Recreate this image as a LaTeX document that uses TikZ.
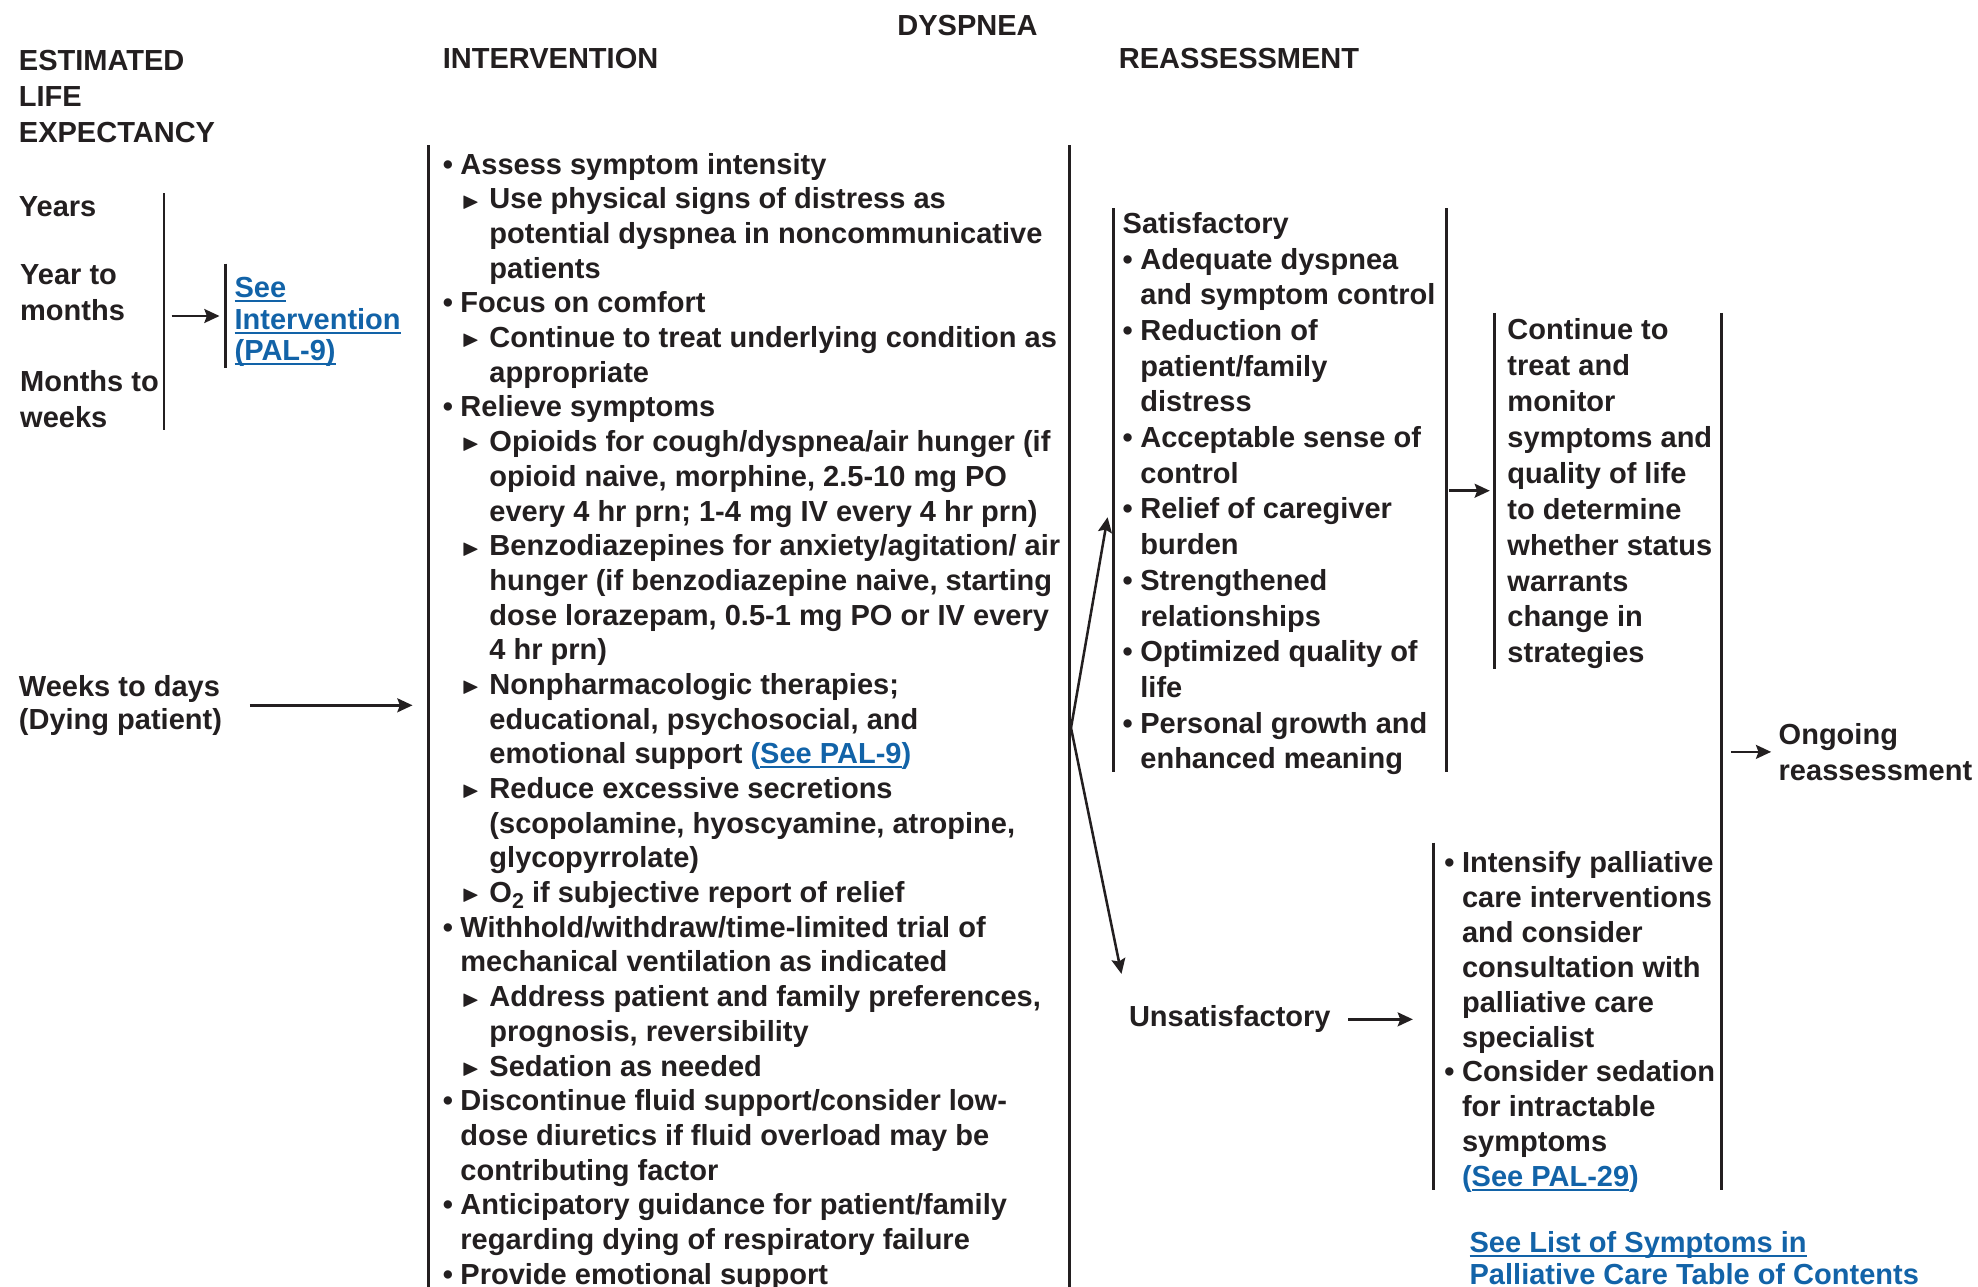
\documentclass[tikz,border=0pt]{standalone}
\usepackage{amssymb}
\usepackage{graphicx}
\usepackage{fontspec}
\setmainfont{Liberation Sans}
\usetikzlibrary{arrows.meta}

\definecolor{ink}{RGB}{35,31,32}
\definecolor{linkblue}{RGB}{18,99,168}

% list markers
\newcommand{\bitem}{\makebox[14pt][l]{\textbullet}}
\newcommand{\bcont}{\hspace*{14pt}}
\newcommand{\sitem}{\hspace*{14pt}\makebox[23pt][l]{\hspace*{1pt}\raisebox{0.5pt}{\scalebox{0.8}{$\blacktriangleright$}}}}
\newcommand{\scont}{\hspace*{37pt}}

% blue links
\newsavebox{\lnkbox}
\newcommand{\seelink}[1]{{\color{linkblue}\sbox{\lnkbox}{#1}\rlap{\rule[-3.5pt]{\wd\lnkbox}{1.5pt}}\usebox{\lnkbox}}}
\newcommand{\seeparen}[1]{{\color{linkblue}(\seelink{#1})}}

\begin{document}
\begin{tikzpicture}[
            > = {Stealth[length=12pt, width=11pt, inset=2pt]}, % arrow head style
            x = 1pt, y = -1pt, % one unit per pixel, top down
            line width = 2pt % line style
        ]

        % multi-line texts are placed by the baseline of their last line
        \tikzstyle{txt}=[
            anchor = base west,
            inner sep = 0pt,
            align = left,
            text = ink,
            font = \bfseries\fontsize{23}{28.5}\selectfont
        ]
        \tikzstyle{frame}=[anchor = north west, inner sep = 0pt, outer sep = 0pt]
        \tikzstyle{bar}=[draw = ink, line width = 2.3pt]
        \tikzstyle{arr}=[->, draw = ink, line width = 2pt]

        \useasboundingbox (0,0) rectangle (1568,1020);

        % headings
        \node[txt, anchor=base] (TTL) at (767,28) {DYSPNEA};
        \node[txt] (HLE) at (14,113) {ESTIMATED\\LIFE\\EXPECTANCY};
        \node[txt] (HIN) at (350,54) {INTERVENTION};
        \node[txt] (HRE) at (886,54) {REASSESSMENT};

        % life expectancy
        \node[txt] (Y1) at (14,172) {Years};
        \node[txt] (Y2) at (15,254) {Year to\\months};
        \node[txt] (Y3) at (15,339) {Months to\\weeks};
        \node[txt, font=\bfseries\fontsize{23}{25}\selectfont] (SEE) at (185,286)
            {\seelink{See}\\\seelink{Intervention}\\\seelink{(PAL-9)}};
        \node[txt, font=\bfseries\fontsize{23}{26}\selectfont] (WTD) at (14,578)
            {Weeks to days\\(Dying patient)};

        \node[frame, minimum height=188pt] (LEB) at (130,153) {};
        \node[frame, minimum height=83pt] (SEB) at (179,209) {};
        \draw[bar] (LEB.north west) -- (LEB.south west);
        \draw[bar] (SEB.north west) -- (SEB.south west);
        \draw[arr, shorten <=5pt, shorten >=5pt] (LEB.east |- SEB.west) -- (SEB.west);

        % intervention
        \node[frame, minimum width=508pt, minimum height=905pt] (INTB) at (340,115) {};
        \draw[bar] (INTB.north west) -- (INTB.south west);
        \draw[bar] (INTB.north east) -- (INTB.south east);
        \draw[arr, shorten <=21pt, shorten >=13pt] (WTD.east) -- (WTD.east -| INTB.west);

        \node[txt, font=\bfseries\fontsize{23}{27.5}\selectfont] (INT) at (350,1018) {%
            \bitem Assess symptom intensity\\
            \sitem Use physical signs of distress as\\
            \scont potential dyspnea in noncommunicative\\
            \scont patients\\
            \bitem Focus on comfort\\
            \sitem Continue to treat underlying condition as\\
            \scont appropriate\\
            \bitem Relieve symptoms\\
            \sitem Opioids for cough/dyspnea/air hunger (if\\
            \scont opioid naive, morphine, 2.5-10 mg PO\\
            \scont every 4 hr prn; 1-4 mg IV every 4 hr prn)\\
            \sitem Benzodiazepines for anxiety/agitation/ air\\
            \scont hunger (if benzodiazepine naive, starting\\
            \scont dose lorazepam, 0.5-1 mg PO or IV every\\
            \scont 4 hr prn)\\
            \sitem Nonpharmacologic therapies;\\
            \scont educational, psychosocial, and\\
            \scont emotional support \seeparen{See PAL-9}\\
            \sitem Reduce excessive secretions\\
            \scont (scopolamine, hyoscyamine, atropine,\\
            \scont glycopyrrolate)\\
            \sitem O\raisebox{-5pt}{\fontsize{17}{17}\selectfont 2} if subjective report of relief\\
            \bitem Withhold/withdraw/time-limited trial of\\
            \bcont mechanical ventilation as indicated\\
            \sitem Address patient and family preferences,\\
            \scont prognosis, reversibility\\
            \sitem Sedation as needed\\
            \bitem Discontinue fluid support/consider low-\\
            \bcont dose diuretics if fluid overload may be\\
            \bcont contributing factor\\
            \bitem Anticipatory guidance for patient/family\\
            \bcont regarding dying of respiratory failure\\
            \bitem Provide emotional support};

        % reassessment
        \coordinate (SPL) at (849,577);
        \coordinate (UP) at (878,410);
        \coordinate (DN) at (889,772);
        \draw[arr] (SPL) -- (UP);
        \draw[arr] (SPL) -- (DN);

        \node[frame, minimum width=264pt, minimum height=447pt] (SATB) at (883,165) {};
        \draw[bar] (SATB.north west) -- (SATB.south west);
        \draw[bar] (SATB.north east) -- (SATB.south east);
        \node[txt, font=\bfseries\fontsize{23}{28.3}\selectfont] (SAT) at (889,609.5) {%
            Satisfactory\\
            \bitem Adequate dyspnea\\
            \bcont and symptom control\\
            \bitem Reduction of\\
            \bcont patient/family\\
            \bcont distress\\
            \bitem Acceptable sense of\\
            \bcont control\\
            \bitem Relief of caregiver\\
            \bcont burden\\
            \bitem Strengthened\\
            \bcont relationships\\
            \bitem Optimized quality of\\
            \bcont life\\
            \bitem Personal growth and\\
            \bcont enhanced meaning};

        \node[frame, minimum width=180pt, minimum height=282pt] (CONB) at (1185,248) {};
        \node[frame, minimum width=229pt, minimum height=275pt] (INSB) at (1136,668) {};
        \draw[bar] (CONB.north west) -- (CONB.south west);
        \draw[bar] (INSB.north west) -- (INSB.south west);
        \draw[bar] (CONB.north east) -- (INSB.south east);
        \draw[arr, shorten <=2pt, shorten >=4pt] (SATB.east |- CONB.west) -- (CONB.west);

        \node[txt] (CON) at (1194,525.5) {%
            Continue to\\treat and\\monitor\\symptoms and\\quality of life\\
            to determine\\whether status\\warrants\\change in\\strategies};

        \node[txt] (ONG) at (1409,618.5) {Ongoing\\reassessment};
        \draw[arr, shorten <=7pt, shorten >=5pt] (CONB.east |- ONG.west) -- (ONG.west);

        \node[txt] (UNS) at (894,814) {Unsatisfactory};
        \draw[arr, shorten <=13pt, shorten >=16pt] (UNS.east) -- (UNS.east -| INSB.west);

        \node[txt, font=\bfseries\fontsize{23}{27.6}\selectfont] (INS) at (1144,940.4) {%
            \bitem Intensify palliative\\
            \bcont care interventions\\
            \bcont and consider\\
            \bcont consultation with\\
            \bcont palliative care\\
            \bcont specialist\\
            \bitem Consider sedation\\
            \bcont for intractable\\
            \bcont symptoms\\
            \bcont \seeparen{See PAL-29}};

        \node[txt, font=\bfseries\fontsize{23}{25}\selectfont] (SL) at (1164,1018)
            {\seelink{See List of Symptoms in}\\\seelink{Palliative Care Table of Contents}};

  \end{tikzpicture}
\end{document}
